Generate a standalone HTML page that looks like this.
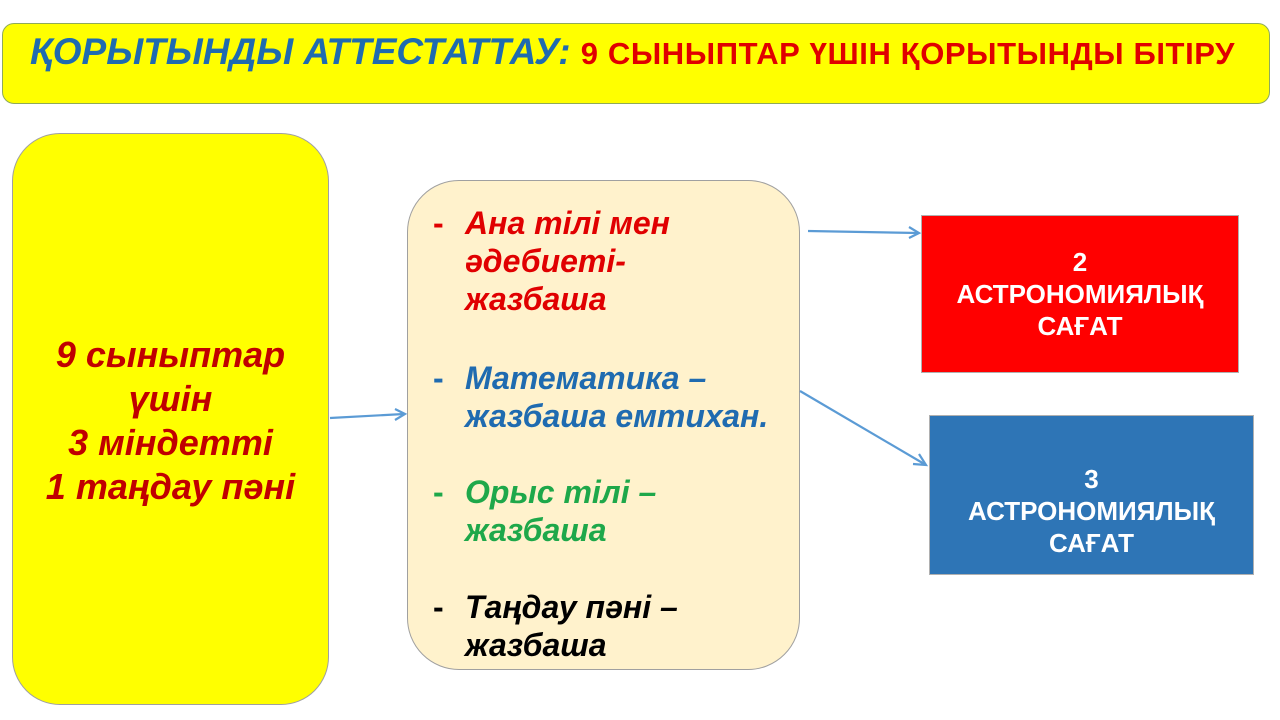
<!DOCTYPE html>
<html><head><meta charset="utf-8"><style>
body{margin:0;width:1280px;height:720px;background:#fff;position:relative;overflow:hidden;font-family:"Liberation Sans",sans-serif}
.a{position:absolute;box-sizing:border-box}
.t{position:absolute;white-space:nowrap;font-weight:bold;font-style:italic}
</style></head><body>
<div class="a" style="left:2px;top:23px;width:1268px;height:81px;background:#ffff00;border:1.5px solid #8faa5a;border-radius:12px"></div>
<div class="t" style="left:30px;top:31px;font-size:37px;color:#1f6bb0">ҚОРЫТЫНДЫ АТТЕСТАТТАУ: <span style="color:#e00000;font-size:31px;font-style:normal;letter-spacing:0.6px">9 СЫНЫПТАР ҮШІН ҚОРЫТЫНДЫ БІТІРУ</span></div>

<div class="a" style="left:12px;top:133px;width:317px;height:572px;background:#ffff00;border:1px solid #a0a0a0;border-radius:48px"></div>
<div class="t" style="left:12px;width:317px;top:333px;text-align:center;font-size:36px;line-height:44px;color:#c00000">9 сыныптар<br>үшін<br>3 міндетті<br>1 таңдау пәні</div>

<div class="a" style="left:407px;top:180px;width:393px;height:490px;background:#fff2cc;border:1px solid #a0a0a0;border-radius:52px"></div>
<div class="t" style="left:433px;top:204px;font-size:32px;line-height:38px;color:#e00000"><span style="display:inline-block;width:32px;font-style:normal">-</span>Ана тілі мен<br><span style="padding-left:32px">әдебиеті-</span><br><span style="padding-left:32px">жазбаша</span></div>
<div class="t" style="left:433px;top:359px;font-size:32px;line-height:38px;color:#1f6bb0"><span style="display:inline-block;width:32px;font-style:normal">-</span>Математика –<br><span style="padding-left:32px">жазбаша емтихан.</span></div>
<div class="t" style="left:433px;top:473px;font-size:32px;line-height:38px;color:#1ea84a"><span style="display:inline-block;width:32px;font-style:normal">-</span>Орыс тілі –<br><span style="padding-left:32px">жазбаша</span></div>
<div class="t" style="left:433px;top:588px;font-size:32px;line-height:38px;color:#000"><span style="display:inline-block;width:32px;font-style:normal">-</span>Таңдау пәні –<br><span style="padding-left:32px">жазбаша</span></div>

<div class="a" style="left:921px;top:215px;width:318px;height:158px;background:#ff0000;border:1px solid #b0b0b0"></div>
<div class="t" style="left:921px;width:318px;top:246px;text-align:center;font-style:normal;font-size:26px;line-height:32px;color:#fff">2<br>АСТРОНОМИЯЛЫҚ<br>САҒАТ</div>
<div class="a" style="left:929px;top:415px;width:325px;height:160px;background:#2e75b6;border:1px solid #b0b0b0"></div>
<div class="t" style="left:929px;width:325px;top:463px;text-align:center;font-style:normal;font-size:26px;line-height:32px;color:#fff">3<br>АСТРОНОМИЯЛЫҚ<br>САҒАТ</div>

<svg class="a" style="left:0;top:0" width="1280" height="720">
<g stroke="#5b9bd5" stroke-width="2.2" fill="none">
<line x1="330" y1="418" x2="404" y2="414"/><polyline points="395,409 405,414 395,420"/>
<line x1="808" y1="231" x2="918" y2="233"/><polyline points="909,227 919,233 909,238"/>
<line x1="800" y1="391" x2="926" y2="465"/><polyline points="913,464 926,465 919,454"/>
</g></svg>
</body></html>
